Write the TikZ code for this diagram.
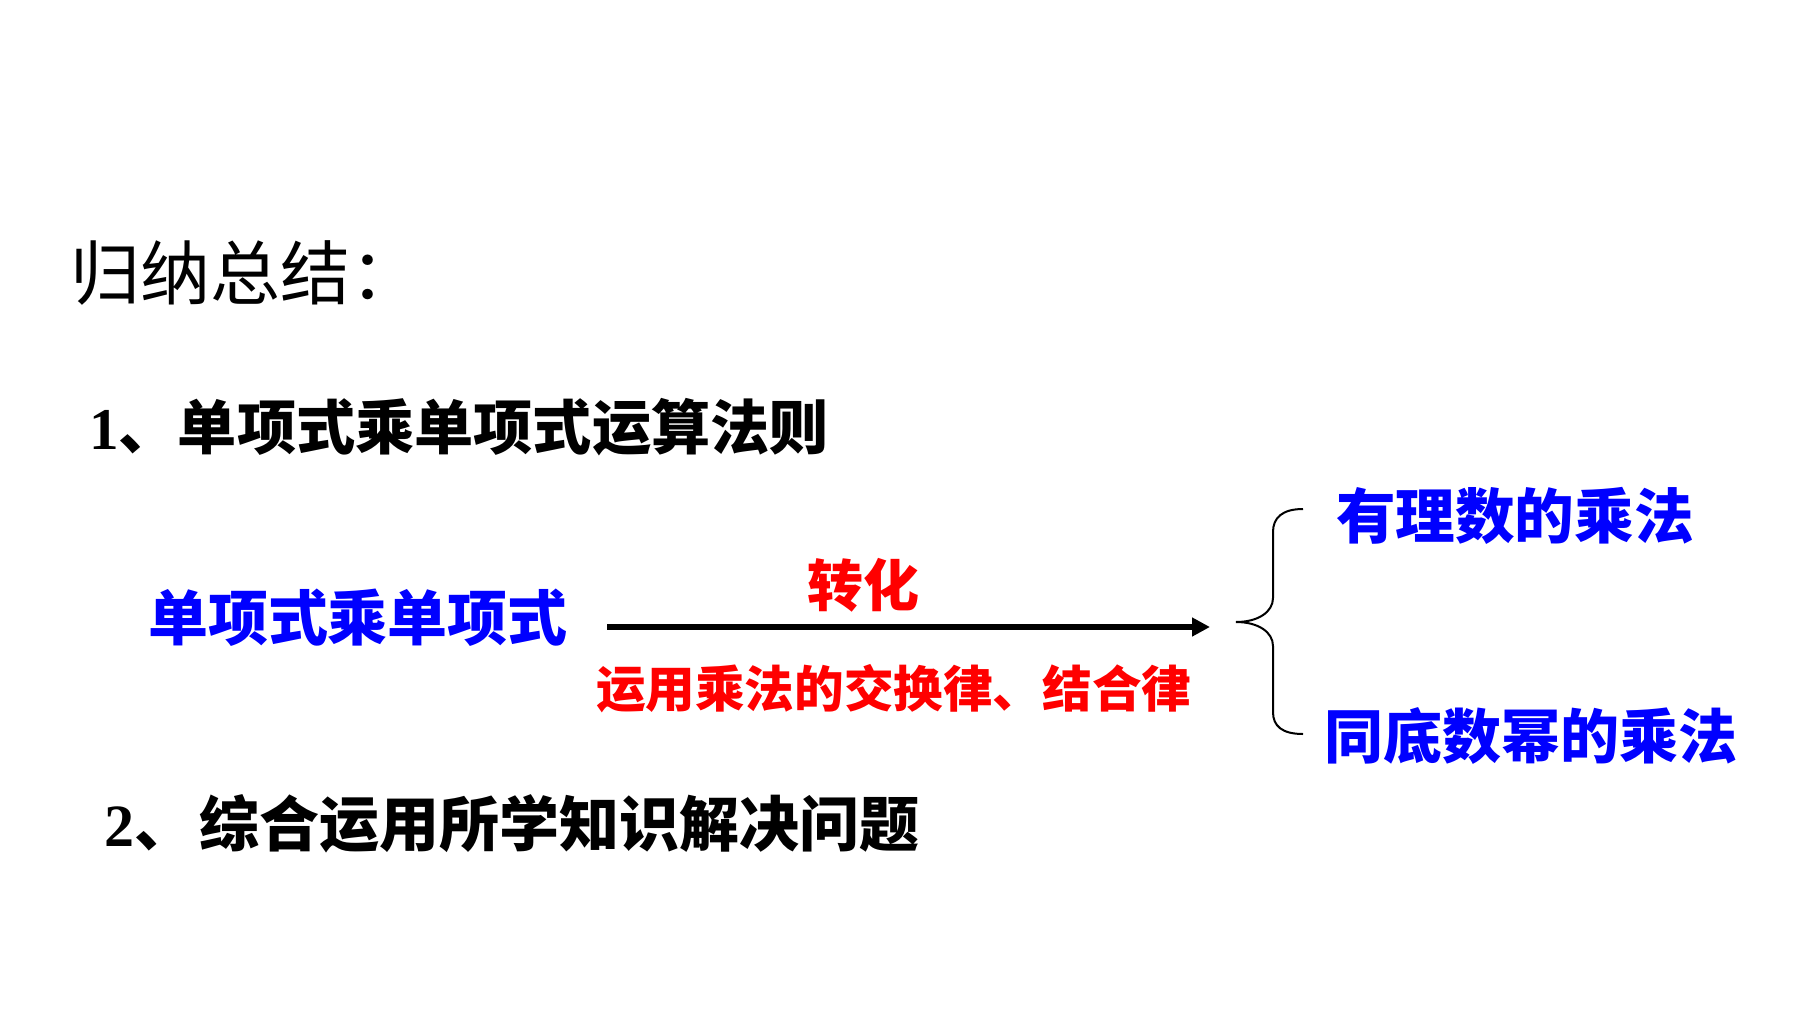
\documentclass[tikz,border=0pt]{standalone}
\usepackage{fontspec}
\setmainfont{Liberation Serif}
\newfontfamily\cjk{Noto Sans CJK SC}
\usetikzlibrary{arrows.meta}
\tikzset{
  txt/.style={anchor=base west, inner sep=0pt, outer sep=0pt},
  blk/.style={txt, text=black},
  blu/.style={txt, text=blue},
  rd/.style={txt, text=red},
  mainarrow/.style={line width=3.4pt, -{Triangle[length=9pt,width=9pt]}},
  bracestyle/.style={line width=1pt, black}
}
\begin{document}
\begin{tikzpicture}[x=0.5pt,y=-0.5pt]
\path[use as bounding box, fill=white] (0,0) rectangle (1800,1012);
% title
\node[blk, font=\cjk\fontsize{35pt}{36pt}\selectfont] (title) at (70,299) {归纳总结：};
% item 1
\node[blk, font=\fontsize{29.6pt}{30pt}\selectfont\bfseries] (item1) at (89,449) {1{\cjk 、单项式乘单项式运算法则}};
% left term
\node[blu, font=\cjk\bfseries\fontsize{30pt}{31pt}\selectfont] (src) at (148,640) {单项式乘单项式};
% arrow labels
\node[rd, font=\cjk\bfseries\fontsize{28pt}{29pt}\selectfont] (conv) at (807,606) {转化};
\node[rd, font=\cjk\bfseries\fontsize{24.8pt}{26pt}\selectfont] (rule) at (596,707) {运用乘法的交换律、结合律};
% arrow
\coordinate (a1) at (607,627);
\coordinate (a2) at (1210,627);
\draw[mainarrow] (a1) -- (a2);
% brace
\draw[bracestyle] (1303,509) .. controls (1282,509) and (1273,518) .. (1273,532)
  -- (1273,598) .. controls (1273,612) and (1258,622) .. (1236,622)
  .. controls (1258,622) and (1273,632) .. (1273,646)
  -- (1273,712) .. controls (1273,726) and (1282,734) .. (1303,734);
% results
\node[blu, font=\cjk\bfseries\fontsize{29.8pt}{31pt}\selectfont] (r1) at (1336,538) {有理数的乘法};
\node[blu, font=\cjk\bfseries\fontsize{29.5pt}{30pt}\selectfont] (r2) at (1324,758) {同底数幂的乘法};
% item 2
\node[blk, font=\fontsize{30pt}{31pt}\selectfont\bfseries] (item2) at (104,846) {2{\cjk 、\hspace{3pt}综合运用所学知识解决问题}};
\end{tikzpicture}
\end{document}
